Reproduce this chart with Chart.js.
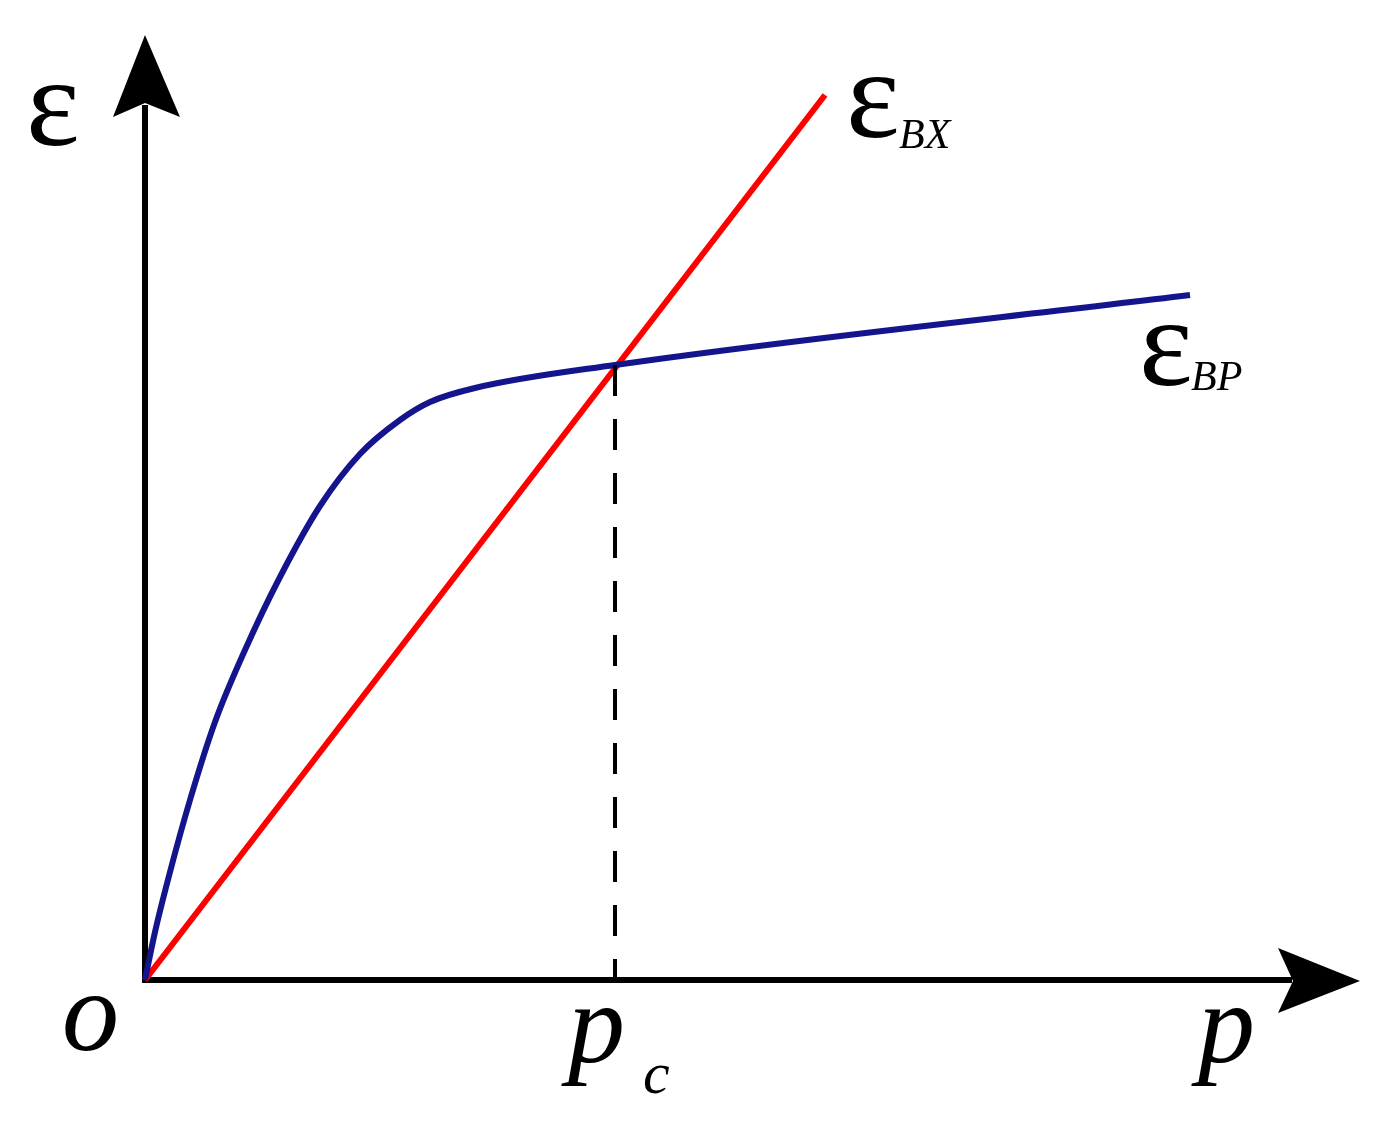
<!DOCTYPE html>
<html>
<head>
<meta charset="utf-8">
<script src="https://cdn.jsdelivr.net/npm/chart.js@4.4.0/dist/chart.umd.min.js"></script>
<style>
  body { margin: 0; background: #fff; }
  #wrap { width: 1379px; height: 1124px; }
</style>
</head>
<body>
<div id="wrap"><canvas id="chart" width="1379" height="1124"></canvas></div>
<script>
// Blue curve (epsilon_BP)
const bpX = [0, 10, 25, 45, 70, 100, 135, 175, 215, 255, 285, 330, 470, 1045];
const bpY = [0, 48, 108, 180, 258, 330, 403, 474, 526, 560, 578, 592, 615, 685];

// Red line (epsilon_BX)
const bxX = [0, 680];
const bxY = [0, 885];

// critical point p_c
const pcX = [470, 470];
const pcY = [615, 0];

// axis ranges
const xRange = [0, 1200];
const yRange = [0, 940];

const toPts = (xs, ys) => xs.map((x, i) => ({ x: x, y: ys[i] }));

// Axes with arrows + labels
const sketchPlugin = {
  id: 'sketch',
  beforeDatasetsDraw(chart) {
    const ctx = chart.ctx;
    const xs = chart.scales.x, ys = chart.scales.y;
    const ox = xs.getPixelForValue(0), oy = ys.getPixelForValue(0);
    ctx.save();
    ctx.strokeStyle = '#000';
    ctx.fillStyle = '#000';
    ctx.lineWidth = 6;
    ctx.beginPath();
    ctx.moveTo(ox, oy + 3);
    ctx.lineTo(ox, 105);
    ctx.moveTo(ox - 3, oy);
    ctx.lineTo(1292, oy);
    ctx.stroke();
    // vertical arrowhead
    ctx.beginPath();
    ctx.moveTo(ox, 35);
    ctx.lineTo(ox + 35, 117);
    ctx.lineTo(ox, 103);
    ctx.lineTo(ox - 32, 117);
    ctx.closePath();
    ctx.fill();
    // horizontal arrowhead
    ctx.beginPath();
    ctx.moveTo(1360, oy + 1);
    ctx.lineTo(1278, oy - 32);
    ctx.lineTo(1293, oy + 1);
    ctx.lineTo(1278, oy + 33);
    ctx.closePath();
    ctx.fill();
    ctx.restore();
  },
  afterDatasetsDraw(chart) {
    const ctx = chart.ctx;
    ctx.save();
    ctx.fillStyle = '#000';
    ctx.textBaseline = 'alphabetic';
    ctx.textAlign = 'left';
    // y axis label
    ctx.font = '128px "Liberation Serif"';
    ctx.fillText('\u03b5', 26, 145);
    // epsilon_BX
    ctx.fillText('\u03b5', 846, 137);
    ctx.font = 'italic 42px "Liberation Serif"';
    ctx.fillText('BX', 899, 148);
    // epsilon_BP
    ctx.font = '128px "Liberation Serif"';
    ctx.fillText('\u03b5', 1139, 385);
    ctx.font = 'italic 42px "Liberation Serif"';
    ctx.fillText('BP', 1191, 390);
    // origin, p, p_c
    ctx.font = 'italic 114px "Liberation Serif"';
    ctx.fillText('o', 62, 1050);
    ctx.fillText('p', 1198, 1062);
    ctx.fillText('p', 568, 1062);
    ctx.font = 'italic 60px "Liberation Serif"';
    ctx.fillText('c', 643, 1093);
    ctx.restore();
  }
};

new Chart(document.getElementById('chart').getContext('2d'), {
  type: 'scatter',
  data: {
    datasets: [
      {
        label: 'pc',
        data: toPts(pcX, pcY),
        showLine: true,
        borderColor: '#000',
        borderWidth: 4,
        borderDash: [31, 23],
        pointRadius: 0,
        clip: false
      },
      {
        label: 'BP',
        data: toPts(bpX, bpY),
        showLine: true,
        borderColor: '#14148c',
        borderWidth: 6,
        cubicInterpolationMode: 'monotone',
        pointRadius: 0,
        clip: false
      },
      {
        label: 'BX',
        data: toPts(bxX, bxY),
        showLine: true,
        borderColor: '#ff0000',
        borderWidth: 6,
        pointRadius: 0,
        clip: false
      }
    ]
  },
  options: {
    responsive: false,
    animation: false,
    layout: { padding: { left: 145, right: 34, top: 40, bottom: 144 } },
    scales: {
      x: { type: 'linear', min: xRange[0], max: xRange[1], display: false },
      y: { type: 'linear', min: yRange[0], max: yRange[1], display: false }
    },
    plugins: {
      legend: { display: false },
      tooltip: { enabled: false }
    }
  },
  plugins: [sketchPlugin]
});
</script>
</body>
</html>
